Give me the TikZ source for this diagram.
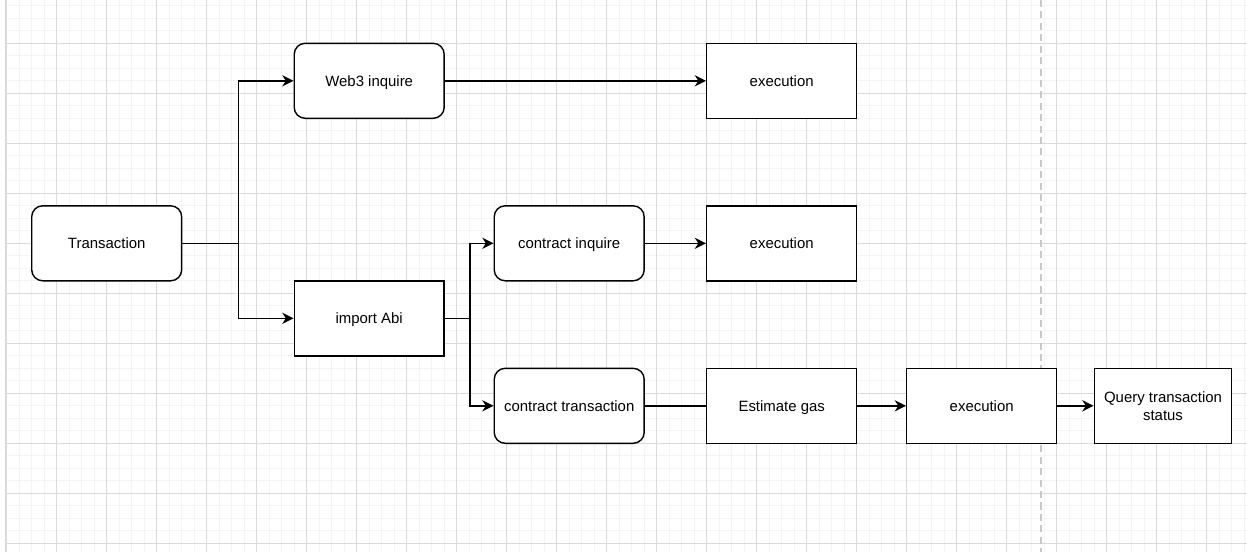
\documentclass[tikz,border=0pt]{standalone}
\usepackage{fontspec}
\setmainfont{Liberation Sans}
\usetikzlibrary{arrows.meta}

\definecolor{gridminor}{HTML}{F4F4F4}
\definecolor{gridmajor}{HTML}{DADADA}
\definecolor{pagebreak}{HTML}{C8C8C8}

\begin{document}
\begin{tikzpicture}[
    x=0.02cm,
    y=-0.02cm,
    action/.style={
        rectangle,
        rounded corners=0.22cm,
        draw,
        line width=0.8pt,
        fill=white,
        minimum width=3cm,
        minimum height=1.5cm,
        inner sep=2pt,
        text depth=0pt,
        align=center,
        font=\fontsize{8.5}{10.2}\selectfont
    },
    task/.style={
        rectangle,
        draw,
        line width=0.8pt,
        fill=white,
        minimum width=3cm,
        minimum height=1.5cm,
        inner sep=2pt,
        text depth=0pt,
        align=center,
        font=\fontsize{8.5}{10.2}\selectfont
    },
    flow/.style={
        -{Stealth[length=6.4pt,width=6.4pt,inset=2pt]},
        line width=0.8pt
    },
    link/.style={
        -,
        line width=0.8pt
    }
]

% canvas and grid
\useasboundingbox (0,0) rectangle (1247,552);
\fill[white] (0,0) rectangle (1247,552);
\foreach \gx in {6.7,19.2,...,1247}
    \draw[gridminor,line width=0.6pt] (\gx,0) -- (\gx,552);
\foreach \gy in {5.8,18.3,...,552}
    \draw[gridminor,line width=0.6pt] (6,\gy) -- (1247,\gy);
\foreach \gx in {6.7,56.7,...,1247}
    \draw[gridmajor,line width=0.6pt] (\gx,0) -- (\gx,552);
\foreach \gy in {43.3,93.3,...,552}
    \draw[gridmajor,line width=0.6pt] (6,\gy) -- (1247,\gy);
\draw[gray!30,line width=1pt] (6,0) -- (6,552);
\draw[pagebreak,line width=1pt,dash pattern=on 4pt off 2.5pt] (1041,0) -- (1041,552);

% nodes
\node[action] (trans) at (106.7,243.3) {Transaction};
\node[action] (web3) at (369.2,80.8) {Web3 inquire};
\node[task] (abi) at (369.2,318.3) {import Abi};
\node[task] (exec1) at (781.7,80.8) {execution};
\node[action] (cinq) at (569.2,243.3) {contract inquire};
\node[task] (exec2) at (781.7,243.3) {execution};
\node[action] (ctrans) at (569.2,405.8) {contract transaction};
\node[task] (gas) at (781.7,405.8) {Estimate gas};
\node[task] (exec3) at (981.7,405.8) {execution};
\node[task,minimum width=2.75cm,text depth=] (query) at (1163,405.8) {Query transaction\\status};

% connectors
\draw[flow] (trans.east) -- ++(56.25,0) |- (web3.west);
\draw[flow] (trans.east) -- ++(56.25,0) |- (abi.west);
\draw[flow] (web3) -- (exec1);
\draw[flow] (abi.east) -- ++(25,0) |- (cinq.west);
\draw[flow] (abi.east) -- ++(25,0) |- (ctrans.west);
\draw[flow] (cinq) -- (exec2);
\draw[link] (ctrans) -- (gas);
\draw[flow] (gas) -- (exec3);
\draw[flow] (exec3) -- (query);

\end{tikzpicture}
\end{document}
